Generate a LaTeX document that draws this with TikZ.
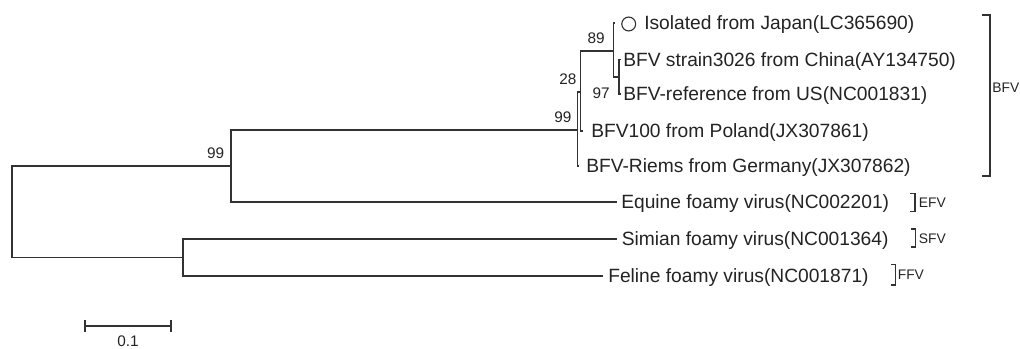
\documentclass[tikz,border=0pt]{standalone}
\usepackage{fontspec}
\setmainfont{Liberation Sans}
\definecolor{treeline}{RGB}{50,50,50}
\definecolor{treetext}{RGB}{35,35,35}
\begin{document}
\begin{tikzpicture}[x=0.75pt,y=-0.75pt,
  branch/.style={draw=treeline,line width=0.85pt},
  leaflabel/.style={anchor=west,inner sep=0pt,text height=10.3pt,text depth=0pt,font=\fontsize{14.4pt}{16pt}\selectfont,text=treetext},
  boot/.style={anchor=east,inner sep=0pt,text height=8.2pt,text depth=0pt,font=\fontsize{11.5pt}{13pt}\selectfont,text=treetext},
  cladelabel/.style={anchor=west,inner sep=0pt,text height=7.5pt,text depth=0pt,font=\fontsize{10.4pt}{12pt}\selectfont,text=treetext},
  marker/.style={draw=treeline,line width=0.85pt,circle,inner sep=0pt,minimum size=10.4pt}]
\useasboundingbox (0,0) rectangle (1020,349);
% internal nodes
\coordinate (root) at (12,212);
\coordinate (n99a) at (231,166);
\coordinate (nlow) at (183,257.5);
\coordinate (n99b) at (577.3,130);
\coordinate (n28) at (580.7,92);
\coordinate (n89) at (613.3,51);
\coordinate (n97) at (619,77);
% leaf tips
\coordinate (lJapan) at (615,23);
\coordinate (lChina) at (621,59.5);
\coordinate (lUS) at (621,94);
\coordinate (lPoland) at (583,131);
\coordinate (lRiems) at (579.3,166);
\coordinate (lEquine) at (616.7,202);
\coordinate (lSimian) at (617,239);
\coordinate (lFeline) at (603.3,276);
% branches
\draw[branch] (root) |- (n99a);
\draw[branch] (root) |- (nlow);
\draw[branch] (n99a) |- (n99b);
\draw[branch] (n99a) |- (lEquine);
\draw[branch] (nlow) |- (lSimian);
\draw[branch] (nlow) |- (lFeline);
\draw[branch] (n99b) |- (n28);
\draw[branch] (n99b) |- (lRiems);
\draw[branch] (n28) |- (n89);
\draw[branch] (n28) |- (lPoland);
\draw[branch] (n89) |- (lJapan);
\draw[branch] (n89) |- (n97);
\draw[branch] (n97) |- (lChina);
\draw[branch] (n97) |- (lUS);
% leaf labels
\node[marker] (circ) at (628.7,24) {};
\node[leaflabel] (tJapan) at (644,23) {Isolated from Japan(LC365690)};
\node[leaflabel] (tChina) at (623,59.5) {BFV strain3026 from China(AY134750)};
\node[leaflabel] (tUS) at (623,94) {BFV-reference from US(NC001831)};
\node[leaflabel] (tPoland) at (591,131) {BFV100 from Poland(JX307861)};
\node[leaflabel] (tRiems) at (586,166) {BFV-Riems from Germany(JX307862)};
\node[leaflabel] (tEquine) at (621,202) {Equine foamy virus(NC002201)};
\node[leaflabel] (tSimian) at (621.5,239) {Simian foamy virus(NC001364)};
\node[leaflabel] (tFeline) at (608,276) {Feline foamy virus(NC001871)};
% bootstrap values
\node[boot] (b89) at (605,38) {89};
\node[boot] (b28) at (576.7,79) {28};
\node[boot] (b97) at (610,93) {97};
\node[boot] (b99b) at (571.7,116.7) {99};
\node[boot] (b99a) at (224.5,153.3) {99};
% clade brackets
\coordinate (bfvT) at (982,15); \coordinate (bfvB) at (982,176);
\draw[branch] (bfvT) -- ++(8,0) |- (bfvB);
\node[cladelabel] (cBFV) at (992,88) {BFV};
\coordinate (efvT) at (910,193.3); \coordinate (efvB) at (910,211.7);
\draw[branch] (efvT) -- ++(5,0) |- (efvB);
\node[cladelabel] (cEFV) at (918.5,202.3) {EFV};
\coordinate (sfvT) at (911,229); \coordinate (sfvB) at (911,247);
\draw[branch] (sfvT) -- ++(4.7,0) |- (sfvB);
\node[cladelabel] (cSFV) at (918.5,238) {SFV};
\coordinate (ffvT) at (891,264.5); \coordinate (ffvB) at (891,285);
\draw[branch] (ffvT) -- ++(4.7,0) |- (ffvB);
\node[cladelabel] (cFFV) at (897.5,274.5) {FFV};
% scale bar
\coordinate (sL) at (85,326); \coordinate (sR) at (171,326);
\draw[branch] (sL) -- (sR);
\draw[branch] ([yshift=4.5pt]sL) -- ([yshift=-4.5pt]sL);
\draw[branch] ([yshift=4.5pt]sR) -- ([yshift=-4.5pt]sR);
\node[boot,anchor=center] (scale) at (128,341.5) {0.1};
\end{tikzpicture}
\end{document}
